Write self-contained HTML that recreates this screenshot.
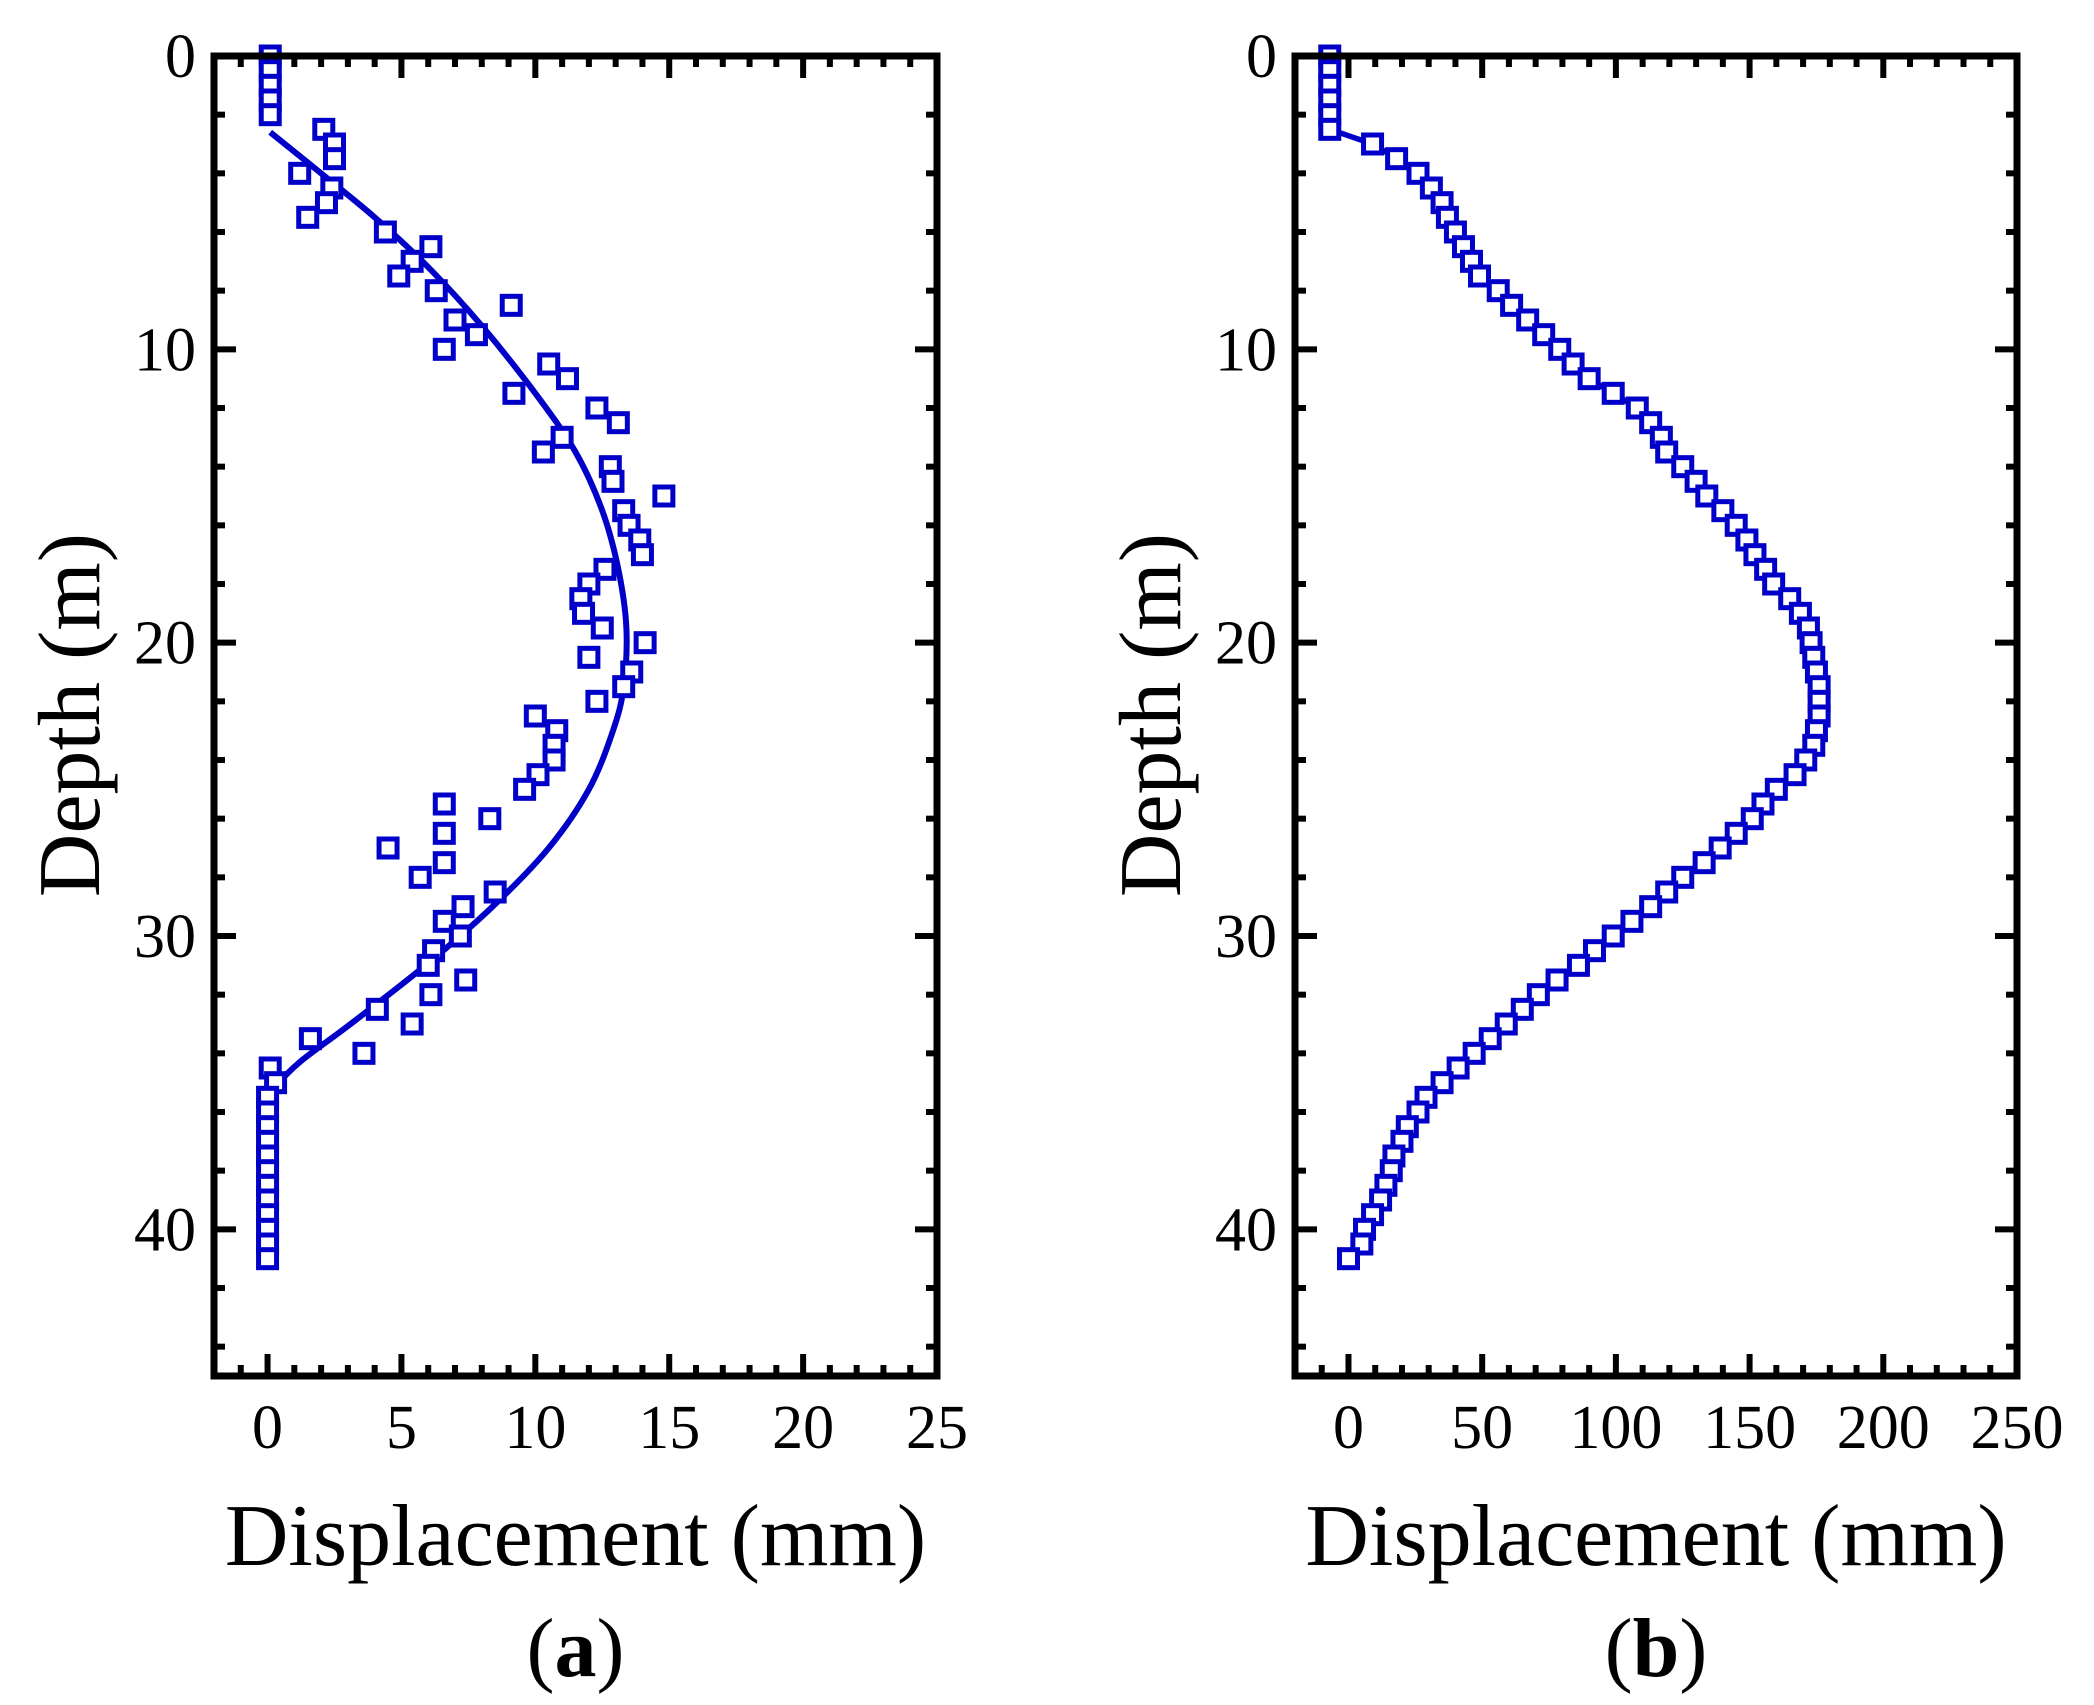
<!DOCTYPE html>
<html><head><meta charset="utf-8"><style>
html,body{margin:0;padding:0;background:#fff;}
svg{display:block;}
text{font-family:"Liberation Serif",serif;fill:#000;}
</style></head>
<body>
<svg id="fig" width="2094" height="1705" viewBox="0 0 2094 1705" xmlns="http://www.w3.org/2000/svg"></svg>
<script>
// ---- data (a) ----
const depthsA = [0,0.5,1,1.5,2,2.5,3,3.5,4,4.5,5,5.5,6,6.5,7,7.5,8,8.5,9,9.5,10,10.5,11,11.5,12,12.5,13,13.5,14,14.5,15,15.5,16,16.5,17,17.5,18,18.5,19,19.5,20,20.5,21,21.5,22,22.5,23,23.5,24,24.5,25,25.5,26,26.5,27,27.5,28,28.5,29,29.5,30,30.5,31,31.5,32,32.5,33,33.5,34,34.5,35,35.5,36,36.5,37,37.5,38,38.5,39,39.5,40,40.5,41];
const measA = [0.1,0.1,0.1,0.1,0.1,2.1,2.5,2.5,1.2,2.4,2.2,1.5,4.4,6.1,5.4,4.9,6.3,9.1,7,7.8,6.6,10.5,11.2,9.2,12.3,13.1,11,10.3,12.8,12.9,14.8,13.3,13.5,13.9,14,12.6,12,11.7,11.8,12.5,14.1,12,13.6,13.3,12.3,10,10.8,10.7,10.7,10.1,9.6,6.6,8.3,6.6,4.5,6.6,5.7,8.5,7.3,6.6,7.2,6.2,6,7.4,6.1,4.1,5.4,1.6,3.6,0.1,0.3,0,0,0,0,0,0,0,0,0,0,0,0];
const fitDepthA = [2.6,4,5.5,7.2,9.2,11.5,13.5,15.5,17.5,19.5,21.5,23,25,27,29,31,33,34.3,35.2];
const fitDispA = [0.1,2,4,6,8,10,11.5,12.5,13.1,13.4,13.3,12.9,12.0,10.5,8.4,5.9,3.1,1.2,0.2];
const xTicksA = [0,5,10,15,20,25];
// ---- data (b) ----
const depthsB = [0,0.5,1,1.5,2,2.5,3,3.5,4,4.5,5,5.5,6,6.5,7,7.5,8,8.5,9,9.5,10,10.5,11,11.5,12,12.5,13,13.5,14,14.5,15,15.5,16,16.5,17,17.5,18,18.5,19,19.5,20,20.5,21,21.5,22,22.5,23,23.5,24,24.5,25,25.5,26,26.5,27,27.5,28,28.5,29,29.5,30,30.5,31,31.5,32,32.5,33,33.5,34,34.5,35,35.5,36,36.5,37,37.5,38,38.5,39,39.5,40,40.5,41];
const measB = [-7,-7,-7,-7,-7,-7,9,18,26,31,35,37,40,43,46,49,56,61,67,73,79,84,90,99,108,113,117,119,125,130,134,140,145,149,152,156,159,165,169,172,173,174,175,176,176,176,175,174,171,167,160,155,151,145,139,133,125,119,113,106,99,92,86,78,71,65,59,53,47,41,35,29,26,22,20,17,16,14,12,9,6,5,0];
const xTicksB = [0,50,100,150,200,250];
const yTicks = [0,10,20,30,40];

const NS = "http://www.w3.org/2000/svg";
const svg = document.getElementById('fig');
const BLUE = "#0000c8";
function mk(tag, attrs, parent){ const e=document.createElementNS(NS,tag); for(const k in attrs) e.setAttribute(k,attrs[k]); (parent||svg).appendChild(e); return e; }
function smoothPath(p){
  let d='M'+p[0][0]+','+p[0][1];
  for(let i=0;i<p.length-1;i++){
    const p0=p[Math.max(0,i-1)],p1=p[i],p2=p[i+1],p3=p[Math.min(p.length-1,i+2)];
    const c1=[p1[0]+(p2[0]-p0[0])/6,p1[1]+(p2[1]-p0[1])/6];
    const c2=[p2[0]-(p3[0]-p1[0])/6,p2[1]-(p3[1]-p1[1])/6];
    d+=' C'+c1[0]+','+c1[1]+' '+c2[0]+','+c2[1]+' '+p2[0]+','+p2[1];
  }
  return d;
}
function panel(cfg){
  const g = mk('g',{});
  
  
  const L=cfg.left,R=cfg.right,T=56,B=1376;
  const sx = v => L + (v - cfg.xmin)/(cfg.xmax-cfg.xmin)*(R-L);
  const sy = d => T + d/45*(B-T);
  for(let v=cfg.xmin+cfg.xminor0; v<=cfg.xmax+1e-9; v+=cfg.xminor){
    const major = xTicksMajor(v,cfg.xmajor);
    const len = major?22:11;
    const x=sx(v);
    mk('line',{x1:x,y1:B,x2:x,y2:B-len,stroke:'#000','stroke-width':6},g);
    mk('line',{x1:x,y1:T,x2:x,y2:T+len,stroke:'#000','stroke-width':6},g);
  }
  for(let d=2; d<45; d+=2){
    const major = d%10===0; const len=major?22:11; const y=sy(d);
    mk('line',{x1:L,y1:y,x2:L+len,y2:y,stroke:'#000','stroke-width':6},g);
    mk('line',{x1:R,y1:y,x2:R-len,y2:y,stroke:'#000','stroke-width':6},g);
  }
  cfg.xTicks.forEach(v=>{
    const t=mk('text',{x:sx(v),y:1448,'font-size':62,'text-anchor':'middle'},g);
    t.textContent=v;
    
    
  });
  yTicks.forEach(d=>{
    const t=mk('text',{x:L-18,y:sy(d)+21,'font-size':62,'text-anchor':'end'},g);
    t.textContent=d;
    
    
  });
  if(cfg.fitD){
    const pts=cfg.fitD.map((d,i)=>[sx(cfg.fitX[i]),sy(d)]);
    const c=mk('path',{d:smoothPath(pts),fill:'none',stroke:BLUE,'stroke-width':6,'stroke-linejoin':'round'},g);
    
    
  }
  if(cfg.connect){
    const pts=cfg.depths.map((d,i)=>sx(cfg.vals[i])+','+sy(d));
    const c=mk('polyline',{points:pts.join(' '),fill:'none',stroke:BLUE,'stroke-width':5.5,'stroke-linejoin':'round'},g);
    
    
  }
  cfg.depths.forEach((d,i)=>{
    const r=mk('rect',{x:sx(cfg.vals[i])-9,y:sy(d)-9,width:18,height:18,fill:'#fff',stroke:BLUE,'stroke-width':5},g);
    
    
  });
  const f=mk('rect',{x:L,y:T,width:R-L,height:B-T,fill:'none',stroke:'#000','stroke-width':7},g);
  
  
  const yt=mk('text',{x:0,y:0,'font-size':88,'text-anchor':'middle',transform:`translate(${cfg.ytx},715) rotate(-90)`},g);
  yt.textContent='Depth (m)';
  
  
  const xt=mk('text',{x:(L+R)/2,y:1565,'font-size':88,'text-anchor':'middle'},g);
  xt.textContent='Displacement (mm)';
  
  
  const lab=mk('text',{x:(L+R)/2,y:1676,'font-size':84,'text-anchor':'middle'},g);
  lab.innerHTML='(<tspan font-weight="bold">'+cfg.label+'</tspan>)';
  
  
}
function xTicksMajor(v,m){ return Math.abs(v/m-Math.round(v/m))<1e-6; }

panel({name:'panel-a',left:214,right:937,xmin:-2,xmax:25,xminor:1,xminor0:1,xmajor:5,xTicks:xTicksA,depths:depthsA,vals:measA,fitD:fitDepthA,fitX:fitDispA,connect:false,ytx:99,label:'a'});
panel({name:'panel-b',left:1295,right:2017,xmin:-20,xmax:250,xminor:10,xminor0:10,xmajor:50,xTicks:xTicksB,depths:depthsB,vals:measB,connect:true,ytx:1180,label:'b'});
</script>
</body></html>
